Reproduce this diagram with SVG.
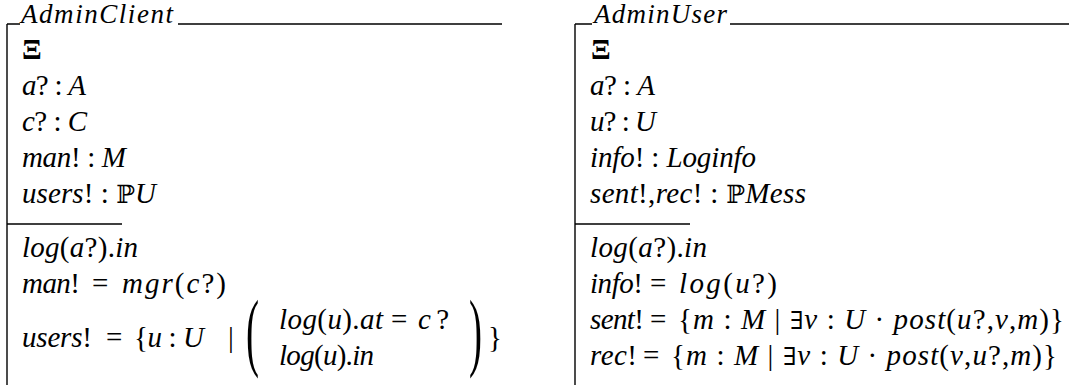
<svg xmlns="http://www.w3.org/2000/svg" width="1070" height="385" viewBox="0 0 1070 385">
<style>
text{font-family:'Liberation Serif','Tinos','Times New Roman','DejaVu Serif',serif;font-size:29px;fill:#000}
.t{font-size:27px;font-style:italic}
.i{font-style:italic}
.b{font-weight:bold}
.bb{font-family:'DejaVu Serif','DejaVu Sans',serif;font-size:25px;font-style:normal}
.ln{stroke:#000;stroke-width:1.4;fill:none}
</style>
<rect width="1070" height="385" fill="#fff"/>
<g id="AdminClient">
<path class="ln" d="M7,24H20M178,24H502M7,24V385M7,224H122"/>
<text class="t" x="21" y="23.3" textLength="152" lengthAdjust="spacing">AdminClient</text>
<text class="b" x="22" y="59">Ξ</text>
<text x="22" y="95" textLength="64" lengthAdjust="spacing"><tspan class="i">a</tspan>? : <tspan class="i">A</tspan></text>
<text x="22" y="131" textLength="65" lengthAdjust="spacing"><tspan class="i">c</tspan>? : <tspan class="i">C</tspan></text>
<text x="22" y="167" textLength="104" lengthAdjust="spacing"><tspan class="i">man</tspan>! : <tspan class="i">M</tspan></text>
<text x="22" y="203" textLength="134" lengthAdjust="spacing"><tspan class="i">users</tspan>! : <tspan class="bb">ℙ</tspan><tspan class="i">U</tspan></text>
<text x="22" y="257" textLength="116" lengthAdjust="spacing"><tspan class="i">log</tspan>(<tspan class="i">a</tspan>?).<tspan class="i">in</tspan></text>
<text x="22" y="293" textLength="58" lengthAdjust="spacing"><tspan class="i">man</tspan>!</text>
<text x="92" y="293">=</text>
<text x="122" y="293" textLength="104" lengthAdjust="spacing"><tspan class="i">mgr</tspan>(<tspan class="i">c</tspan>?)</text>
<text x="22" y="347" textLength="70" lengthAdjust="spacing"><tspan class="i">users</tspan>!</text>
<text x="106" y="347">=</text>
<text x="134" y="347" textLength="70" lengthAdjust="spacing">{<tspan class="i">u</tspan> : <tspan class="i">U</tspan></text>
<text x="228" y="347">|</text>
<text transform="translate(246,360) scale(1.35,3.0)">(</text>
<text x="279" y="329" textLength="104" lengthAdjust="spacing"><tspan class="i">log</tspan>(<tspan class="i">u</tspan>).<tspan class="i">at</tspan></text>
<text x="391" y="329">=</text>
<text x="418" y="329" textLength="31" lengthAdjust="spacing"><tspan class="i">c</tspan>?</text>
<text x="279" y="365" textLength="95" lengthAdjust="spacing"><tspan class="i">log</tspan>(<tspan class="i">u</tspan>).<tspan class="i">in</tspan></text>
<text transform="translate(469,360) scale(1.35,3.0)">)</text>
<text x="488" y="347">}</text>
</g>
<g id="AdminUser">
<path class="ln" d="M575,24H592M730,24H1069M575,24V385M575,224H690"/>
<text class="t" x="594" y="23.3" textLength="133" lengthAdjust="spacing">AdminUser</text>
<text class="b" x="591" y="59">Ξ</text>
<text x="590" y="95" textLength="65" lengthAdjust="spacing"><tspan class="i">a</tspan>? : <tspan class="i">A</tspan></text>
<text x="590" y="131" textLength="66" lengthAdjust="spacing"><tspan class="i">u</tspan>? : <tspan class="i">U</tspan></text>
<text x="590" y="167" textLength="166" lengthAdjust="spacing"><tspan class="i">info</tspan>! : <tspan class="i">Loginfo</tspan></text>
<text x="590" y="203" textLength="216" lengthAdjust="spacing"><tspan class="i">sent</tspan>!,<tspan class="i">rec</tspan>! : <tspan class="bb">ℙ</tspan><tspan class="i">Mess</tspan></text>
<text x="590" y="257" textLength="117" lengthAdjust="spacing"><tspan class="i">log</tspan>(<tspan class="i">a</tspan>?).<tspan class="i">in</tspan></text>
<text x="590" y="293" textLength="53" lengthAdjust="spacing"><tspan class="i">info</tspan>!</text>
<text x="650" y="293">=</text>
<text x="679" y="293" textLength="98" lengthAdjust="spacing"><tspan class="i">log</tspan>(<tspan class="i">u</tspan>?)</text>
<text x="590" y="329" textLength="54" lengthAdjust="spacing"><tspan class="i">sent</tspan>!</text>
<text x="650" y="329">=</text>
<text x="678" y="329" textLength="386" lengthAdjust="spacing">{<tspan class="i">m</tspan> : <tspan class="i">M</tspan> | <tspan class="bb">∃</tspan><tspan class="i">v</tspan> : <tspan class="i">U</tspan> · <tspan class="i">post</tspan>(<tspan class="i">u</tspan>?,<tspan class="i">v</tspan>,<tspan class="i">m</tspan>)}</text>
<text x="590" y="365" textLength="47" lengthAdjust="spacing"><tspan class="i">rec</tspan>!</text>
<text x="643" y="365">=</text>
<text x="671" y="365" textLength="386" lengthAdjust="spacing">{<tspan class="i">m</tspan> : <tspan class="i">M</tspan> | <tspan class="bb">∃</tspan><tspan class="i">v</tspan> : <tspan class="i">U</tspan> · <tspan class="i">post</tspan>(<tspan class="i">v</tspan>,<tspan class="i">u</tspan>?,<tspan class="i">m</tspan>)}</text>
</g>
</svg>
